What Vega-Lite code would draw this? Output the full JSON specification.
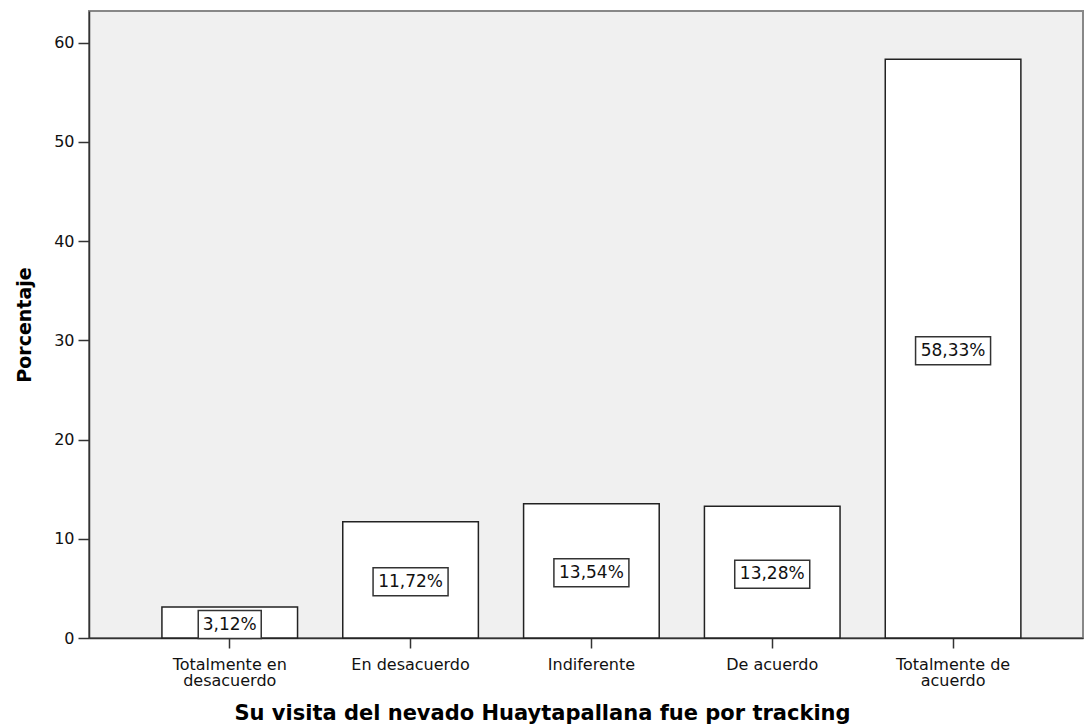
{
  "$schema": "https://vega.github.io/schema/vega-lite/v6.json",
  "width": 994,
  "height": 627,
  "autosize": "none",
  "padding": {"left": 89, "top": 11, "right": 1, "bottom": 89},
  "background": "white",
  "config": {
    "view": {"fill": "#f0f0f0", "stroke": "#888888", "strokeWidth": 2},
    "font": "DejaVu Sans"
  },
  "data": {
    "values": [
      {"cat": "Totalmente en desacuerdo", "pct": 3.12, "label": "3,12%"},
      {"cat": "En desacuerdo", "pct": 11.72, "label": "11,72%"},
      {"cat": "Indiferente", "pct": 13.54, "label": "13,54%"},
      {"cat": "De acuerdo", "pct": 13.28, "label": "13,28%"},
      {"cat": "Totalmente de acuerdo", "pct": 58.33, "label": "58,33%"}
    ]
  },
  "encoding": {
    "x": {
      "field": "cat",
      "type": "nominal",
      "sort": null,
      "scale": {"paddingInner": 0.25, "paddingOuter": 0.3734, "align": 0.54},
      "axis": {
        "title": "Su visita del nevado Huaytapallana fue por tracking",
        "titleX": 453,
        "titleAnchor": "middle",
        "labelAngle": 0,
        "labelExpr": "datum.label == 'Totalmente en desacuerdo' ? ['Totalmente en', 'desacuerdo'] : datum.label == 'Totalmente de acuerdo' ? ['Totalmente de', 'acuerdo'] : datum.label",
        "labelOverlap": false,
        "tickSize": 10,
        "labelPadding": 8,
        "labelFontSize": 16,
        "labelLineHeight": 16,
        "labelColor": "#111111",
        "titleFontSize": 21,
        "titleFontWeight": "bold",
        "titleColor": "#000000",
        "titlePadding": 14,
        "domainColor": "#333333",
        "domainWidth": 1.5,
        "tickColor": "#333333",
        "tickWidth": 1.5
      }
    }
  },
  "layer": [
    {
      "mark": {"type": "bar", "fill": "white", "stroke": "#222222", "strokeWidth": 1.5},
      "encoding": {
        "y": {
          "field": "pct",
          "type": "quantitative",
          "scale": {"domain": [0, 63.2], "nice": false},
          "axis": {
            "title": "Porcentaje",
            "values": [0, 10, 20, 30, 40, 50, 60],
            "grid": false,
            "tickSize": 11,
            "labelPadding": 4,
            "labelFontSize": 16,
            "labelColor": "#111111",
            "titleFontSize": 19,
            "titleFontWeight": "bold",
            "titleColor": "#000000",
            "titlePadding": 19,
            "domainColor": "#333333",
            "domainWidth": 1.5,
            "tickColor": "#333333",
            "tickWidth": 1.5
          }
        }
      }
    },
    {
      "encoding": {
        "y": {
          "field": "pct",
          "type": "quantitative",
          "scale": {"domain": [0, 126.4], "nice": false},
          "axis": null
        }
      },
      "layer": [
        {
          "mark": {"type": "point", "filled": true, "fill": "white", "stroke": "#333333", "strokeWidth": 1.5, "size": 10000, "opacity": 1, "yOffset": 2},
          "encoding": {
            "shape": {
              "field": "label",
              "type": "nominal",
              "scale": {
                "domain": ["3,12%", "11,72%", "13,54%", "13,28%", "58,33%"],
                "range": ["M-0.63,-0.28H0.63V0.28H-0.63Z", "M-0.75,-0.28H0.75V0.28H-0.75Z", "M-0.75,-0.28H0.75V0.28H-0.75Z", "M-0.75,-0.28H0.75V0.28H-0.75Z", "M-0.75,-0.28H0.75V0.28H-0.75Z"]
              },
              "legend": null
            }
          }
        },
        {
          "mark": {"type": "text", "fontSize": 17, "color": "#111111", "baseline": "middle", "align": "center", "dy": 2},
          "encoding": {"text": {"field": "label", "type": "nominal"}}
        }
      ]
    }
  ],
  "resolve": {"scale": {"y": "independent"}}
}
